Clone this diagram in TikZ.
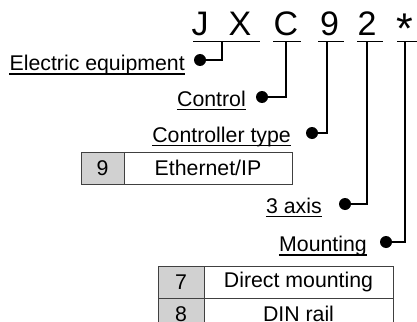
\documentclass[tikz,border=0pt]{standalone}
\usepackage{fontspec}
\setmainfont{Liberation Sans}
\begin{document}
\begin{tikzpicture}[x=1pt,y=-1pt,
  big/.style={font=\fontsize{34}{34}\selectfont, inner sep=0pt, anchor=base},
  lbl/.style={font=\fontsize{21.3}{21.3}\selectfont, inner sep=0pt, anchor=base east},
  wire/.style={line width=2pt},
  uline/.style={line width=1.3pt},
  dotc/.style={circle, fill=black, inner sep=0pt, minimum size=12pt},
  cell/.style={draw=black!75, line width=1pt},
  graycell/.style={cell, fill=black!18},
  celltext/.style={font=\fontsize{21.3}{21.3}\selectfont, inner sep=0pt}
]
\useasboundingbox (0,0) rectangle (417,321);
% code letters
\node[big] (cJ) at (200,36) {J};
\node[big] (cX) at (240,36) {X};
\node[big] (cC) at (286,36) {C};
\node[big] (c9) at (329.5,36) {9};
\node[big] (c2) at (367,36) {2};
\node[big, font=\fontsize{43}{43}\selectfont] (cS) at (405,44) {*};
% underlines of code
\draw[uline] (193,41.7) -- (260,41.7);
\draw[uline] (273,41.7) -- (301,41.7);
\draw[uline] (318,41.7) -- (344,41.7);
\draw[uline] (357,41.7) -- (383,41.7);
\draw[uline] (397,41.7) -- (417,41.7);
% coordinates for wires
\coordinate (t1) at (222,41.7);
\coordinate (t2) at (285.5,41.7);
\coordinate (t3) at (326.5,41.7);
\coordinate (t4) at (367,41.7);
\coordinate (t5) at (404.5,41.7);
% dots
\node[dotc] (d1) at (200,60) {};
\node[dotc] (d2) at (262,97) {};
\node[dotc] (d3) at (312,133) {};
\node[dotc] (d4) at (345,204) {};
\node[dotc] (d5) at (386,242) {};
\draw[wire] (t1) |- (d1.center);
\draw[wire] (t2) |- (d2.center);
\draw[wire] (t3) |- (d3.center);
\draw[wire] (t4) |- (d4.center);
\draw[wire] (t5) |- (d5.center);
% labels
\node[lbl] (l1) at (185,70.5) {Electric equipment};
\node[lbl] (l2) at (246,106) {Control};
\node[lbl] (l3) at (291,142) {Controller type};
\node[lbl] (l4) at (322,213) {3 axis};
\node[lbl] (l5) at (367,251.5) {Mounting};
\foreach \n in {l1,l2,l3,l4,l5}
  \draw[uline] ([yshift=-3.5pt]\n.base west) -- ([yshift=-3.5pt]\n.base east);
% Ethernet table
\draw[graycell] (81,152) rectangle (124,184);
\draw[cell] (124,152) rectangle (292,184);
\node[celltext] (e9) at (102.5,168) {9};
\node[celltext] (eIP) at (208,168) {Ethernet/IP};
% Mounting table
\draw[graycell] (158,266) rectangle (204,298);
\draw[cell] (204,266) rectangle (393,298);
\draw[graycell] (158,298) rectangle (204,330);
\draw[cell] (204,298) rectangle (393,330);
\node[celltext] (m7) at (181,282) {7};
\node[celltext] (md) at (298.5,282) {Direct mounting};
\node[celltext] (m8) at (181,314) {8};
\node[celltext] (mr) at (298.5,314) {DIN rail};
\end{tikzpicture}
\end{document}
